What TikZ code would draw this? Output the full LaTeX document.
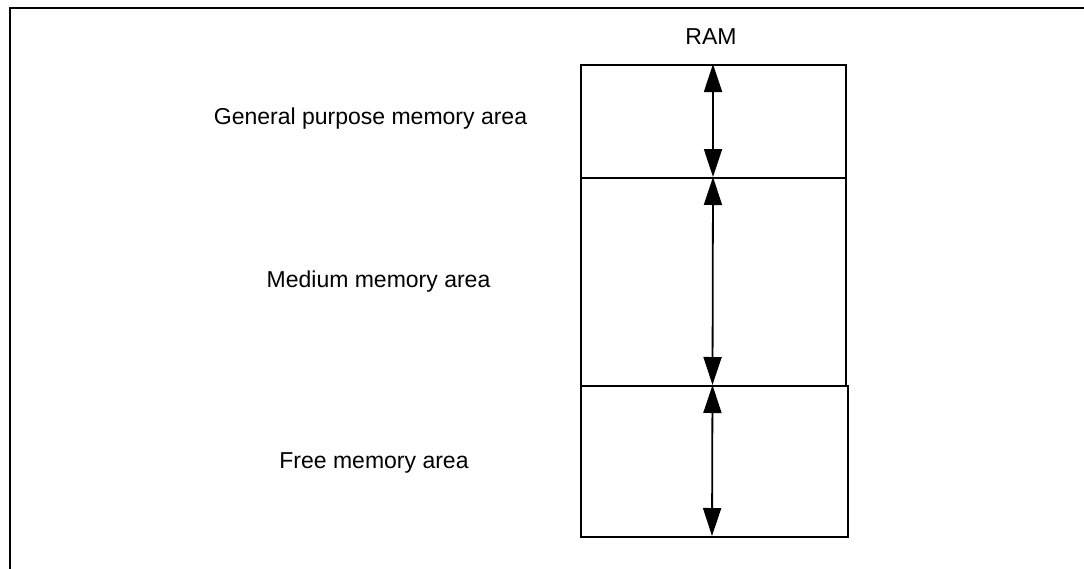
\documentclass[tikz,border=0pt]{standalone}
\usepackage{fontspec}
\setmainfont{Liberation Sans}
\usetikzlibrary{arrows.meta}
\begin{document}
\begin{tikzpicture}[x=1pt,y=-1pt,
  lbl/.style={font=\fontsize{23}{27}\selectfont, inner sep=0pt, anchor=center},
  membox/.style={draw, line width=2.1pt, inner sep=0pt, anchor=north west},
  span/.style={line width=1.8pt, {Triangle[length=28pt,width=18pt]}-{Triangle[length=28pt,width=18pt]}}]
\useasboundingbox (0,0) rectangle (1084,568);
\begin{scope}
\clip (0,0) rectangle (1084,568);
\draw[line width=2.3pt] (10,600) -- (10,8) -- (1100,8);
\end{scope}
% memory boxes
\node[membox, minimum width=265pt, minimum height=113pt] (gp) at (580,64) {};
\node[membox, minimum width=265pt, minimum height=208pt] (md) at (580,177) {};
\node[membox, minimum width=267pt, minimum height=151pt] (fr) at (580,385) {};
% labels
\node[lbl] (ram) at (711,36.5) {RAM};
\node[lbl] (gpl) at (370.5,118.5) {General purpose memory area};
\node[lbl] (mdl) at (378.5,281.5) {Medium memory area};
\node[lbl] (frl) at (374,462.5) {Free memory area};
% arrow end points
\coordinate (a1) at (713,64);
\coordinate (a2) at (713,177);
\coordinate (a3) at (712.5,385);
\coordinate (a4) at (712,536);
\draw[span] (a1) -- (a2);
\draw[span] (a2) -- (a3);
\draw[span] (a3) -- (a4);
\end{tikzpicture}
\end{document}
